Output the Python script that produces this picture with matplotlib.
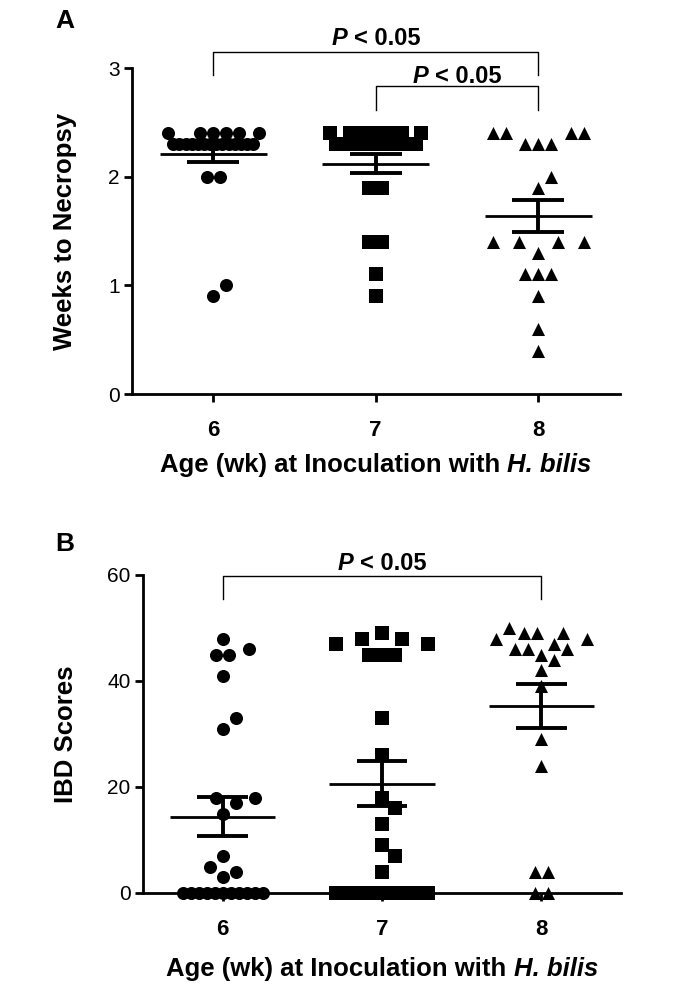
import numpy as np
import matplotlib
matplotlib.use('Agg')
import matplotlib.pyplot as plt
from matplotlib.transforms import IdentityTransform

plt.rcParams['font.family'] = ['Liberation Sans', 'DejaVu Sans']

ages = [6, 7, 8]
age_labels = ['6', '7', '8']

# panel A - weeks from inoculation to necropsy
weeks_6 = [2.4, 2.4, 2.4, 2.4, 2.4, 2.4,
           2.3, 2.3, 2.3, 2.3, 2.3, 2.3, 2.3, 2.3, 2.3, 2.3, 2.3, 2.3, 2.3, 2.3,
           2.0, 2.0, 1.0, 0.9]
weeks_7 = [2.4, 2.4, 2.4, 2.4, 2.4, 2.4, 2.4,
           2.3, 2.3, 2.3, 2.3, 2.3, 2.3, 2.3, 2.3, 2.3, 2.3, 2.3, 2.3,
           1.9, 1.9, 1.4, 1.4, 1.1, 0.9]
weeks_8 = [2.4, 2.4, 2.4, 2.4, 2.3, 2.3, 2.3, 2.0, 1.9,
           1.4, 1.4, 1.4, 1.4, 1.3, 1.1, 1.1, 1.1, 0.9, 0.6, 0.4]
weeks_mean = [2.21, 2.12, 1.64]
weeks_sem = [0.075, 0.09, 0.145]
weeks_ticks = [0, 1, 2, 3]

# panel B - IBD scores
ibd_6 = [48, 46, 45, 45, 41, 33, 31, 18, 18, 17, 15, 7, 5, 4, 3,
         0, 0, 0, 0, 0, 0, 0, 0, 0, 0, 0]
ibd_7 = [49, 48, 48, 47, 47, 45, 45, 45, 33, 26, 18, 16, 13, 9, 7, 4,
         0, 0, 0, 0, 0, 0, 0, 0]
ibd_8 = [50, 49, 49, 49, 48, 48, 47, 46, 46, 46, 45, 44, 42, 39, 29, 24,
         4, 4, 0, 0]
ibd_mean = [14.4, 20.6, 35.3]
ibd_sem = [3.65, 4.25, 4.2]
ibd_ticks = [0, 20, 40, 60]

markers = ['o', 's', '^']
MS = 9.4          # marker size in points (~13 px)
D_PX = MS * 100 / 72

W, H = 676, 986
fig = plt.figure(figsize=(W / 100, H / 100), dpi=100)


def px_axes(left, top, right, bottom):
    return fig.add_axes([left / W, 1 - bottom / H, (right - left) / W, (bottom - top) / H])


def swarm(ax, values, d, half_w, square=False, packed_w=40):
    # prism-like column scatter: rows of equal values, avoid overlaps
    vals = np.asarray(values, dtype=float)
    t = ax.transData
    ppx = t.transform((1, 0))[0] - t.transform((0, 0))[0]
    ppy = t.transform((0, 1))[1] - t.transform((0, 0))[1]

    def dist(xs, ys, x, y):
        dx, dy = np.abs(np.asarray(xs) - x), np.abs(np.asarray(ys) - y)
        return np.maximum(dx, dy) if square else np.hypot(dx, dy)

    step = d / 2
    n = int(half_w // step)
    evens = [0.0] + [s * k * step for k in range(2, n + 1, 2) for s in (1, -1)]
    odds = [s * k * step for k in range(1, n + 1, 2) for s in (1, -1)]
    fit = int(2 * half_w // d) + 1
    levels = np.unique(vals)
    if square:
        levels = levels[::-1]
    px, py = [], []
    off = np.zeros(len(vals))
    for v in levels:
        y = v * ppy
        idx = np.flatnonzero(vals == v)
        if len(idx) > fit:
            # too many for one row: squeeze them evenly
            row = list(np.linspace(-packed_w, packed_w, len(idx)))
            px += row
            py += [y] * len(row)
            off[idx] = np.array(row) / ppx
            continue
        cands = evens + odds if len(idx) % 2 else odds + evens
        row = []
        for i in idx:
            best, best_d = cands[0], -1.0
            for c in cands:
                dmin = np.min(dist(px, py, c, y)) if px else np.inf
                if dmin >= d:
                    best = c
                    break
                if dmin > best_d:
                    best, best_d = c, dmin
            px.append(best)
            py.append(y)
            row.append(best)
        k = len(row)
        ox, oy = px[:-k], py[:-k]

        def clearance(s):
            if not ox:
                return np.inf
            return min(np.min(dist(ox, oy, r + s, y)) for r in row)

        shift = -float(np.mean(row))
        if abs(shift) > 1e-9 and clearance(shift) >= min(d, clearance(0.0)):
            row = [r + shift for r in row]
            px[-k:] = row
        off[idx] = np.array(row) / ppx
    return off


def rich_text(x_px, y_px, parts, size):
    # bold text with italic pieces, centred on x_px, baseline at y_px (display px)
    r = fig.canvas.get_renderer()
    gap = size * 100 / 72 * 0.278
    texts = [fig.text(0, y_px, s, transform=IdentityTransform(), fontsize=size,
                      fontweight='bold', fontstyle=st, ha='left', va='baseline')
             for s, st in parts]
    widths = [t.get_window_extent(r).width for t in texts]
    x = x_px - (sum(widths) + gap * (len(texts) - 1)) / 2
    for t, w in zip(texts, widths):
        t.set_x(x)
        x += w + gap


def p_bracket(ax, x1, x2, y_line, y_drop, y_text):
    ax.plot([x1, x1, x2, x2], [y_drop, y_line, y_line, y_drop], color='black',
            lw=1.0, clip_on=False, zorder=4)
    xp, yp = ax.transData.transform(((x1 + x2) / 2, y_text))
    rich_text(xp, yp, [('P', 'italic'), ('< 0.05', 'normal')], 17)


def draw_panel(ax, groups, means, sems, ylim, yticks):
    ax.set_xlim(5.5, 8.5)
    ax.set_ylim(*ylim)
    for sp in ('top', 'right'):
        ax.spines[sp].set_visible(False)
    for sp in ('left', 'bottom'):
        ax.spines[sp].set_linewidth(2.0)
    ax.set_xticks(ages)
    ax.set_xticklabels(age_labels, fontsize=16, fontweight='bold')
    ax.set_yticks(yticks)
    ax.set_yticklabels([str(v) for v in yticks], fontsize=15)
    ax.tick_params(direction='out', length=6, width=2)
    ax.tick_params(axis='x', pad=13)
    ax.tick_params(axis='y', pad=3)
    for age, vals, mk, mean, sem in zip(ages, groups, markers, means, sems):
        off = swarm(ax, vals, D_PX, 47, square=(mk == 's'))
        ax.scatter(age + off, vals, marker=mk, s=MS ** 2, color='black',
                   linewidths=0, clip_on=False, zorder=3)
        ax.hlines(mean, age - 0.33, age + 0.33, colors='black', lw=2.0, zorder=4)
        ax.hlines([mean - sem, mean + sem], age - 0.16, age + 0.16,
                  colors='black', lw=2.8, zorder=4)
        ax.vlines(age, mean - sem, mean + sem, colors='black', lw=2.8, zorder=4)


ax_a = px_axes(132, 68, 619.5, 394)
draw_panel(ax_a, [weeks_6, weeks_7, weeks_8], weeks_mean, weeks_sem, (0, 3), weeks_ticks)
p_bracket(ax_a, 6, 8, 3.15, 2.94, 3.21)
p_bracket(ax_a, 7, 8, 2.834, 2.61, 2.86)

ax_b = px_axes(143, 575, 621, 893)
draw_panel(ax_b, [ibd_6, ibd_7, ibd_8], ibd_mean, ibd_sem, (0, 60), ibd_ticks)
p_bracket(ax_b, 6, 8, 59.8, 55.5, 60.9)

xlabel = [('Age (wk) at Inoculation with', 'normal'), ('H. bilis', 'italic')]
rich_text((132 + 619.5) / 2, H - 472, xlabel, 18.5)
rich_text((143 + 621) / 2, H - 976, xlabel, 18.5)

fig.text(65 / W, 1 - 231 / H, 'Weeks to Necropsy', rotation=90, fontsize=18.5,
         fontweight='bold', ha='center', va='center')
fig.text(66 / W, 1 - 734 / H, 'IBD Scores', rotation=90, fontsize=18.5,
         fontweight='bold', ha='center', va='center')

fig.text(65 / W, 1 - 28 / H, 'A', fontsize=19, fontweight='bold', ha='center', va='baseline')
fig.text(65 / W, 1 - 551 / H, 'B', fontsize=19, fontweight='bold', ha='center', va='baseline')

fig.savefig('out.png', dpi=100)
